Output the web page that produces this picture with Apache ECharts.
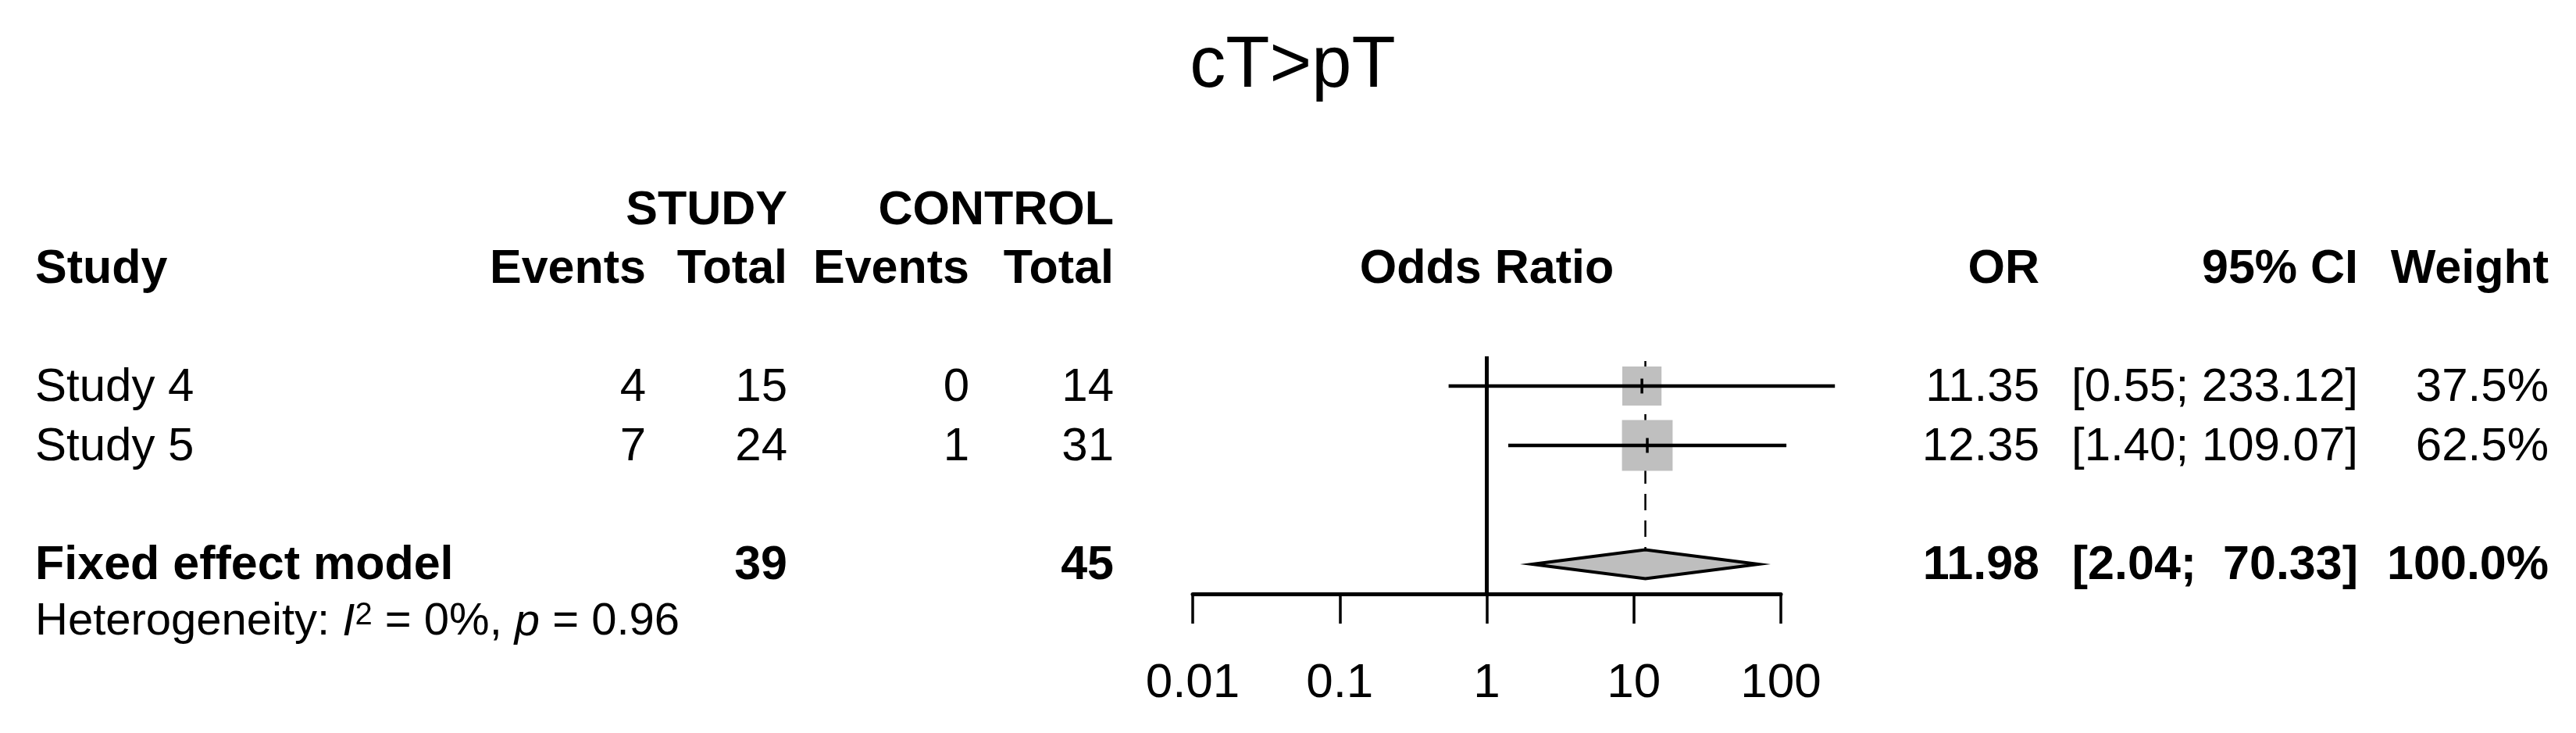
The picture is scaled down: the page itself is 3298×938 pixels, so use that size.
<!DOCTYPE html>
<html>
<head>
<meta charset="utf-8">
<script src="https://cdn.jsdelivr.net/npm/echarts@6/dist/echarts.min.js"></script>
<style>
html,body{margin:0;padding:0;background:#ffffff;}
#chart{width:3298px;height:938px;}
</style>
</head>
<body>
<div id="chart"></div>
<script>
// ---------------- data ----------------
const chartTitle = 'cT>pT';
const studyNames = ['Study 4', 'Study 5'];
const studyEvents = [4, 7];
const studyTotals = [15, 24];
const controlEvents = [0, 1];
const controlTotals = [14, 31];
const oddsRatios = [11.35, 12.35];
const ciLower = [0.55, 1.40];
const ciUpper = [233.12, 109.07];
const weights = [37.5, 62.5];

const pooledName = 'Fixed effect model';
const pooledStudyTotal = 39;
const pooledControlTotal = 45;
const pooledOR = [11.98];
const pooledLower = [2.04];
const pooledUpper = [70.33];
const pooledWeight = [100.0];

const hetI2 = '0%';
const hetP = '0.96';

const axisTickValues = [0.01, 0.1, 1, 10, 100];
const headerGroups = ['STUDY', 'CONTROL'];
const headerCols = ['Study', 'Events', 'Total', 'Events', 'Total', 'Odds Ratio', 'OR', '95% CI', 'Weight'];

// ---------------- layout ----------------
const W = 3298, H = 938;
const ROW0 = 494, ROWH = 76;
const studyRows = [0, 1];
const pooledRow = 3;
const X = {study: 45, sEv: 827, sTot: 1008, cEv: 1241, cTot: 1426, mid: 1903.5,
           or: 2611, ci: 3019, w: 3263, title: 1655};
const FONT = '"Liberation Sans", Arial, sans-serif';
const GRAY = '#bfbfbf';
const INK = '#000000';

const fmt2 = v => v.toFixed(2);
const allUpper = ciUpper.concat(pooledUpper);
const upW = Math.max(...allUpper.map(v => fmt2(v).length));
const ciText = (l, u) => '[' + fmt2(l) + '; ' + fmt2(u).padStart(upW, ' ') + ']';

const texts = [];
function T(x, r, s, align, bold, size) {
  texts.push({value: [x, r], label: {formatter: s, align: align, color: INK, fontFamily: FONT, opacity: 1,
    fontWeight: bold ? 'bold' : 'normal', fontSize: size || (bold ? 61 : 60)}});
}
const off = 0.03;
T(X.title, -5.375, chartTitle, 'center', false, 92);
T(X.sTot, -2.95, headerGroups[0], 'right', true);
T(X.cTot, -2.95, headerGroups[1], 'right', true);
const hr = -1.96;
T(X.study, hr, headerCols[0], 'left', true);
T(X.sEv, hr, headerCols[1], 'right', true);
T(X.sTot, hr, headerCols[2], 'right', true);
T(X.cEv, hr, headerCols[3], 'right', true);
T(X.cTot, hr, headerCols[4], 'right', true);
T(X.mid, hr, headerCols[5], 'center', true);
T(X.or, hr, headerCols[6], 'right', true);
T(X.ci, hr, headerCols[7], 'right', true);
T(X.w, hr, headerCols[8], 'right', true);
studyNames.forEach((n, i) => {
  const r = studyRows[i] + off;
  T(X.study, r, n, 'left', false);
  T(X.sEv, r, String(studyEvents[i]), 'right', false);
  T(X.sTot, r, String(studyTotals[i]), 'right', false);
  T(X.cEv, r, String(controlEvents[i]), 'right', false);
  T(X.cTot, r, String(controlTotals[i]), 'right', false);
  T(X.or, r, fmt2(oddsRatios[i]), 'right', false);
  T(X.ci, r, ciText(ciLower[i], ciUpper[i]), 'right', false);
  T(X.w, r, weights[i].toFixed(1) + '%', 'right', false);
});
{
  const r = pooledRow + off;
  T(X.study, r, pooledName, 'left', true);
  T(X.sTot, r, String(pooledStudyTotal), 'right', true);
  T(X.cTot, r, String(pooledControlTotal), 'right', true);
  T(X.or, r, fmt2(pooledOR[0]), 'right', true);
  T(X.ci, r, ciText(pooledLower[0], pooledUpper[0]), 'right', true);
  T(X.w, r, pooledWeight[0].toFixed(1) + '%', 'right', true);
}
texts.push({value: [X.study, pooledRow + 1 - 0.02], label: {
  align: 'left', color: INK, opacity: 1,
  formatter: '{n|Heterogeneity: }{i|I}{sup|2}{n| = ' + hetI2 + ', }{i|p}{n| = ' + hetP + '}',
  rich: {
    n: {fontSize: 58, lineHeight: 58, fontFamily: FONT, color: INK, verticalAlign: 'bottom'},
    i: {fontSize: 58, lineHeight: 58, fontFamily: FONT, fontStyle: 'italic', color: INK, verticalAlign: 'bottom'},
    sup: {fontSize: 40, lineHeight: 40, padding: [0, 0, 26, 0], fontFamily: FONT, color: INK, verticalAlign: 'top'}
  }
}});

// ---------------- chart ----------------
const chart = echarts.init(document.getElementById('chart'), null, {renderer: 'canvas', width: W, height: H});

const gridTop = ROW0 - 0.5 * ROWH;
const gridBottom = H - (ROW0 + (pooledRow + 0.5) * ROWH);
const DIAMOND_HALF = 18.5;

// pixel x of any value on the log axis (extrapolates beyond the axis ends)
function logX(api, v, r) {
  const a = api.coord([1, r]);
  const b = api.coord([10, r]);
  return [a[0] + Math.log10(v) * (b[0] - a[0]), a[1]];
}

const series = [];
series.push({type: 'line', xAxisIndex: 0, yAxisIndex: 0, z: 1, symbol: 'none', silent: true,
  data: [[pooledOR[0], -0.42], [pooledOR[0], pooledRow - DIAMOND_HALF / ROWH]],
  lineStyle: {color: INK, width: 2.5, type: [21, 13]}});
series.push({type: 'scatter', xAxisIndex: 0, yAxisIndex: 0, z: 2, symbol: 'rect',
  data: oddsRatios.map((v, i) => [v, studyRows[i], weights[i]]),
  symbolSize: v => 8.2 * Math.sqrt(v[2]),
  itemStyle: {color: GRAY, opacity: 1}});
series.push({type: 'line', xAxisIndex: 0, yAxisIndex: 0, z: 3, symbol: 'none', silent: true,
  data: [[1, -0.5], [1, pooledRow + 0.5]], lineStyle: {color: INK, width: 5}});
// CI lines
series.push({type: 'custom', xAxisIndex: 0, yAxisIndex: 0, z: 3, clip: false, silent: true,
  data: oddsRatios.map((v, i) => [ciLower[i], ciUpper[i], studyRows[i]]),
  encode: {x: [0, 1], y: 2},
  renderItem: (params, api) => {
    const r = api.value(2);
    const p1 = logX(api, api.value(0), r);
    const p2 = logX(api, api.value(1), r);
    return {type: 'line', shape: {x1: p1[0], y1: p1[1], x2: p2[0], y2: p2[1]},
      style: {stroke: INK, lineWidth: 4.5}};
  }});
series.push({type: 'scatter', xAxisIndex: 0, yAxisIndex: 0, z: 4, symbol: 'rect', symbolSize: [3.5, 19],
  data: oddsRatios.map((v, i) => [v, studyRows[i]]), itemStyle: {color: INK, opacity: 1}});
series.push({type: 'custom', xAxisIndex: 0, yAxisIndex: 0, z: 3, clip: false, silent: true,
  data: [[pooledLower[0], pooledOR[0], pooledUpper[0], pooledRow]],
  encode: {x: [0, 1, 2], y: 3},
  renderItem: (params, api) => {
    const l = api.coord([api.value(0), api.value(3)]);
    const c = api.coord([api.value(1), api.value(3)]);
    const r = api.coord([api.value(2), api.value(3)]);
    return {type: 'polygon', shape: {points: [[l[0], l[1]], [c[0], c[1] - DIAMOND_HALF], [r[0], r[1]], [c[0], c[1] + DIAMOND_HALF]]},
      style: {fill: '#bebebe', stroke: INK, lineWidth: 4}};
  }});
series.push({type: 'scatter', xAxisIndex: 1, yAxisIndex: 1, z: 5, symbolSize: 0, silent: true,
  itemStyle: {opacity: 1},
  data: texts,
  label: {show: true, position: 'inside', verticalAlign: 'middle', color: INK, fontFamily: FONT, opacity: 1}});

chart.setOption({
  animation: false,
  backgroundColor: '#ffffff',
  textStyle: {color: INK, fontFamily: FONT},
  grid: [
    {left: 1527, right: W - 2280, top: gridTop, bottom: gridBottom, containLabel: false},
    {left: 0, right: 0, top: 0, bottom: 0, containLabel: false}
  ],
  xAxis: [
    {type: 'log', logBase: 10, gridIndex: 0, min: axisTickValues[0], max: axisTickValues[axisTickValues.length - 1],
      position: 'bottom',
      axisLine: {show: true, onZero: false, lineStyle: {color: INK, width: 5}},
      axisTick: {show: true, inside: false, length: 38, lineStyle: {color: INK, width: 3.5}},
      splitLine: {show: false}, minorTick: {show: false},
      axisLabel: {show: true, margin: 84, color: INK, fontSize: 62, fontFamily: FONT,
        formatter: v => String(+v.toPrecision(6))}},
    {type: 'value', gridIndex: 1, min: 0, max: W, show: false}
  ],
  yAxis: [
    {type: 'value', gridIndex: 0, inverse: true, min: -0.5, max: pooledRow + 0.5, show: false},
    {type: 'value', gridIndex: 1, inverse: true, min: -ROW0 / ROWH, max: (H - ROW0) / ROWH, show: false}
  ],
  series: series
});
</script>
</body>
</html>
